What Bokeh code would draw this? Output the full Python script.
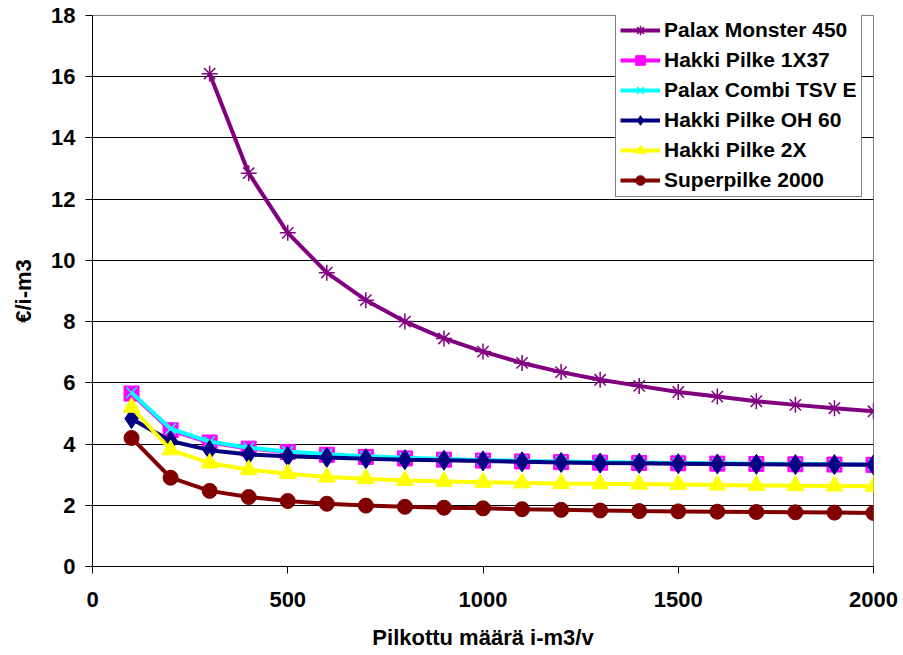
from bokeh.plotting import figure
from bokeh.models import Range1d, FixedTicker, Legend, LegendItem
from bokeh.embed import file_html
from bokeh.resources import INLINE

volumes = [100, 200, 300, 400, 500, 600, 700, 800, 900, 1000,
           1100, 1200, 1300, 1400, 1500, 1600, 1700, 1800, 1900, 2000]
monster_volumes = volumes[2:]

palax_monster_450 = [16.1, 12.85, 10.9, 9.6, 8.7, 8.0, 7.45, 7.02, 6.65, 6.35,
                     6.1, 5.9, 5.7, 5.55, 5.4, 5.28, 5.17, 5.07]
hakki_pilke_1x37 = [5.65, 4.45, 4.05, 3.85, 3.74, 3.65, 3.58, 3.53, 3.49, 3.46,
                    3.43, 3.41, 3.39, 3.38, 3.37, 3.36, 3.35, 3.34, 3.33, 3.32]
palax_combi_tsv_e = [5.68, 4.5, 4.08, 3.88, 3.76, 3.67, 3.6, 3.55, 3.51, 3.48,
                     3.45, 3.43, 3.41, 3.4, 3.38, 3.37, 3.36, 3.35, 3.34, 3.33]
hakki_pilke_oh_60 = [4.83, 4.1, 3.8, 3.66, 3.6, 3.56, 3.52, 3.49, 3.47, 3.45,
                     3.42, 3.4, 3.38, 3.37, 3.36, 3.35, 3.34, 3.33, 3.33, 3.32]
hakki_pilke_2x = [5.2, 3.81, 3.38, 3.16, 3.03, 2.92, 2.87, 2.81, 2.78, 2.75,
                  2.73, 2.71, 2.7, 2.69, 2.68, 2.66, 2.65, 2.64, 2.63, 2.62]
superpilke_2000 = [4.2, 2.9, 2.47, 2.27, 2.14, 2.05, 1.99, 1.95, 1.92, 1.9,
                   1.87, 1.85, 1.83, 1.81, 1.8, 1.79, 1.78, 1.77, 1.76, 1.75]

y_ticks = [0, 2, 4, 6, 8, 10, 12, 14, 16, 18]
x_ticks = [0, 500, 1000, 1500, 2000]

FONT = "Liberation Sans"

p = figure(width=903, height=655, output_backend="svg", toolbar_location=None,
           x_range=Range1d(0, 2000), y_range=Range1d(0, 18),
           min_border_left=92, min_border_right=30, min_border_top=15,
           min_border_bottom=89)

p.outline_line_color = "#808080"
p.xgrid.grid_line_color = None
p.ygrid.grid_line_color = "black"
p.ygrid.grid_line_width = 1
p.background_fill_color = "white"
p.border_fill_color = "white"

p.xaxis.ticker = FixedTicker(ticks=x_ticks)
p.yaxis.ticker = FixedTicker(ticks=y_ticks)
for ax in (p.xaxis[0], p.yaxis[0]):
    ax.axis_line_color = "black"
    ax.major_tick_line_color = "black"
    ax.minor_tick_line_color = None
    ax.major_tick_in = 0
    ax.major_tick_out = 7
    ax.major_label_text_font = FONT
    ax.major_label_text_font_style = "bold"
    ax.major_label_text_font_size = "22px"
    ax.major_label_text_color = "black"
    ax.axis_label_text_font = FONT
    ax.axis_label_text_font_style = "bold"
    ax.axis_label_text_font_size = "22px"
    ax.axis_label_text_color = "black"

p.xaxis.axis_label = "Pilkottu määrä i-m3/v"
p.yaxis.axis_label = "€/i-m3"
p.xaxis.major_label_standoff = 18
p.yaxis.major_label_standoff = 10
p.xaxis.axis_label_standoff = 15
p.yaxis.axis_label_standoff = 12

LW = 4
items = []

r1 = p.line(monster_volumes, palax_monster_450, line_color="#800080", line_width=LW)
m1 = p.scatter(monster_volumes, palax_monster_450, marker="asterisk", size=16,
               line_color="#800080", line_width=1.5)
items.append(LegendItem(label="Palax Monster 450", renderers=[r1, m1]))

r2 = p.line(volumes, hakki_pilke_1x37, line_color="#FF00FF", line_width=LW)
m2 = p.scatter(volumes, hakki_pilke_1x37, marker="square", size=15,
               fill_color="#FF00FF", line_color="#FF00FF")
items.append(LegendItem(label="Hakki Pilke 1X37", renderers=[r2, m2]))

r3 = p.line(volumes, palax_combi_tsv_e, line_color="#00FFFF", line_width=LW)
m3 = p.scatter(volumes, palax_combi_tsv_e, marker="x", size=15,
               line_color="#00FFFF", line_width=1.5)
items.append(LegendItem(label="Palax Combi TSV E", renderers=[r3, m3]))

r4 = p.line(volumes, hakki_pilke_oh_60, line_color="#000080", line_width=LW)
m4 = p.scatter(volumes, hakki_pilke_oh_60, marker="diamond", size=20,
               fill_color="#000080", line_color="#000080")
items.append(LegendItem(label="Hakki Pilke OH 60", renderers=[r4, m4]))

r5 = p.line(volumes, hakki_pilke_2x, line_color="#FFFF00", line_width=LW)
m5 = p.scatter(volumes, hakki_pilke_2x, marker="triangle", size=17,
               fill_color="#FFFF00", line_color="#FFFF00")
items.append(LegendItem(label="Hakki Pilke 2X", renderers=[r5, m5]))

r6 = p.line(volumes, superpilke_2000, line_color="#800000", line_width=LW)
m6 = p.scatter(volumes, superpilke_2000, marker="circle", size=15,
               fill_color="#800000", line_color="#800000")
items.append(LegendItem(label="Superpilke 2000", renderers=[r6, m6]))

legend = Legend(items=items, location=(523, 369))
legend.label_text_font = FONT
legend.label_text_font_style = "bold"
legend.label_text_font_size = "21px"
legend.label_text_color = "black"
legend.border_line_color = "black"
legend.border_line_width = 1
legend.background_fill_color = "white"
legend.background_fill_alpha = 1
legend.padding = 4
legend.spacing = 6
legend.glyph_width = 40
legend.glyph_height = 24
legend.label_height = 24
legend.label_standoff = 4
legend.margin = 0
p.add_layout(legend)

open("out.html", "w").write(file_html(p, INLINE))
